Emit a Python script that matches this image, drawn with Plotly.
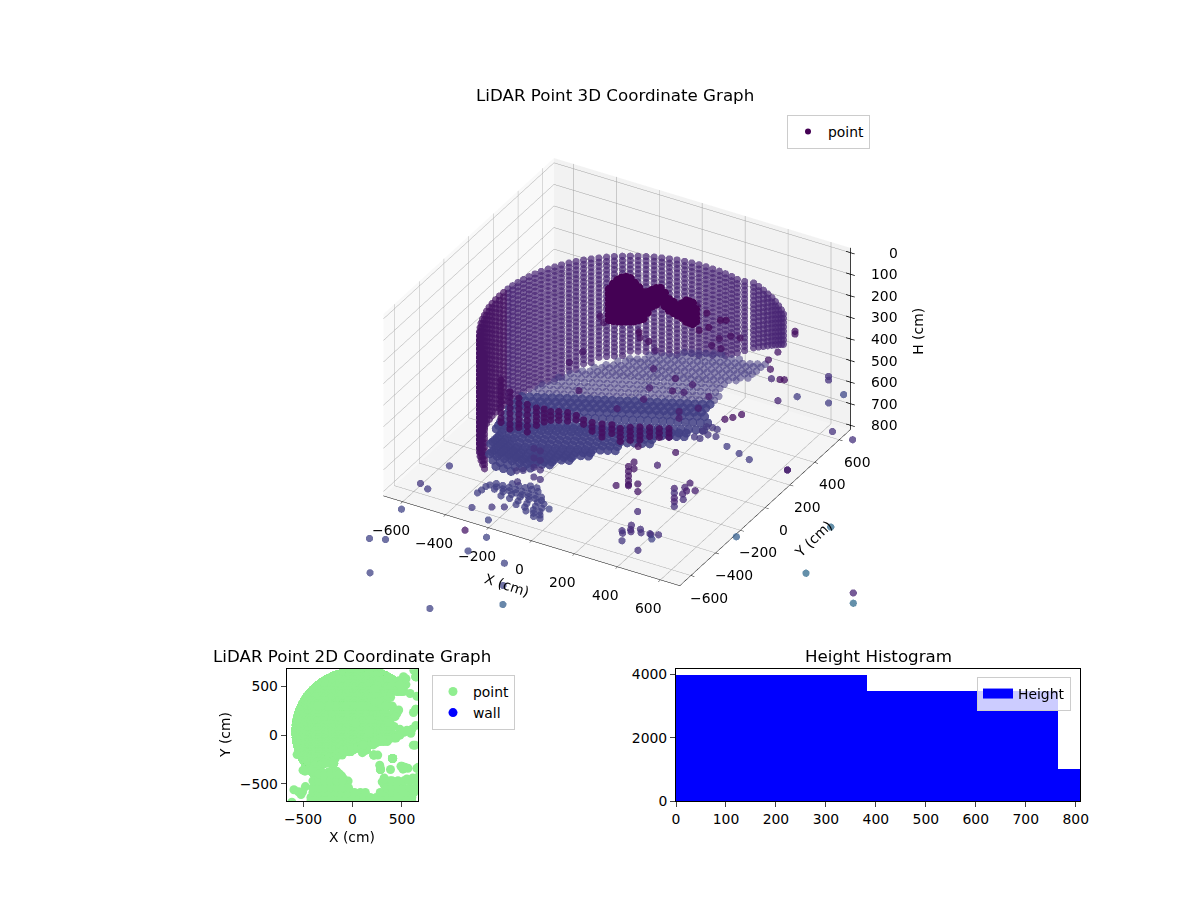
import plotly.graph_objects as go

FONT = 'DejaVu Sans'

# wall columns read from the 3D view / 2D footprint (cm)
wall_x = [492,468,443,416,389,360,331,300,269,232,198,167,135,104,72,40,8,-24,-55,-87,-118,-148,-178,-208,-237,-265,-292,-319,-344,-368,-391,-413,-434,-453,-472,-488,-503,-518,-530,-540,-549,-557,-563,-567,-569,-570,-569,-567,-563,-557,-549,-540,-530,-517,-503,-488,-472,-453,-434,-413,-391]
wall_y = [492,516,537,558,577,594,610,625,638,630,629,637,643,647,649,650,649,647,643,637,629,620,610,597,583,568,552,533,514,493,471,448,424,399,372,345,317,288,258,228,198,167,135,104,72,40,8,-24,-55,-87,-118,-148,-178,-208,-237,-265,-292,-319,-344,-368,-391]
wall_rows = [8,9,10,11,12,13,14,15,16,17,18,19,20,20,21,21,22,22,22,23,23,23,23,23,23,23,24,24,24,24,25,25,26,26,27,27,27,27,27,27,27,27,27,27,27,27,27,27,27,27,27,27,27,27,27,27,27,27,27,27,27]
wall_levels = [240,260,280,300,320,340,360,380,400,420,440,460,480,500,520,540,560,580,600,620,640,660,680,700,720,740,760]

# floor read on a 35 cm grid: row y, first column, heights along the row
floor_cols = [-560,-525,-490,-455,-420,-385,-350,-315,-280,-245,-210,-175,-140,-105,-70,-35,0,35,70,105,140,175,210,245,280,315,350,385,420,455,490]
floor_y = [600,565,530,495,460,425,390,355,320,285,250,215,180,145,110,75,40,5,-30,-47,-65,-82,-100,-117,-135,-152,-170,-187,-205,-222,-240,-275,-310]
floor_first = [15,11,9,8,7,6,5,4,3,3,2,2,2,1,1,1,1,1,1,1,1,2,2,2,2,2,2,3,3,3,3,4,5]
floor_h = [
    [635,625,616,607,598,589],
    [671,662,653,644,635,625,616,607,598,589,580,571,562],
    [689,680,671,662,653,644,635,625,616,607,598,589,580,571,562,553,544,534,525],
    [693,684,675,666,657,648,639,630,620,611,602,593,584,575,566,557,548,539,529,520],
    [702,693,684,675,666,657,648,639,630,620,611,602,593,584,575,566,557,548,539,529,520],
    [706,697,688,679,670,661,652,643,634,625,615,606,597,588,579,570,561,552,543,534,524,515],
    [715,706,697,688,679,670,661,652,643,634,625,615,606,597,588,579,570,561,552,543,534,524,515],
    [720,710,701,692,683,674,665,656,647,638,629,620,610,601,592,583,574,565,556,547,538,529,519],
    [729,720,710,701,692,683,674,665,656,647,638,629,620,610,601,592,583,574,565,556,547,538,529],
    [729,720,710,701,692,683,674,665,656,647,638,629,620,610,601,592,583,574,565,556,547,538,529],
    [738,729,720,710,701,692,683,674,665,656,647,638,629,620,610,601,592,583,574,565,556,547,538,529],
    [738,729,720,710,701,692,683,674,665,656,647,638,629,620,610,601,592,583,574,565,556,547,538,529,519],
    [738,729,720,710,701,692,683,674,665,656,647,638,629,620,610,601,592,583,574,565,556,547,538,529,519],
    [747,738,729,720,710,701,692,683,674,665,656,647,638,629,620,610,601,592,583,574,565,556,547,538,529,519],
    [747,738,729,720,710,701,692,683,674,665,656,647,638,629,620,610,601,592,583,574,565,556,547,538,529,519],
    [747,738,729,720,710,701,692,683,674,665,656,647,638,629,620,610,601,592,583,574,565,556,547,538,529,519],
    [747,738,729,720,710,701,692,683,674,665,656,647,638,629,620,610,601,592,583,574,565,556,547,538,529,519,510],
    [757,748,739,730,720,711,702,693,684,675,666,657,648,639,630,620,611,602,593,584,575,566,557,548,539,529,520,511],
    [772,763,754,745,735,726,717,708,699,690,681,672,663,654,645,635,626,617,608,599,590,581,572,563,554,544,535,526],
    [780,771,762,752,743,734,725,716,707,698,689,680,671,662,652,643,634,625,616,607,598,589,580,571,562,552],
    [787,778,769,760,750,741,732,723,714,705,696,687,678,669,660,650,641,632,623,614,605,596,587,578,569,559],
    [784,779,770,760,751,742,733,724,715,706,697,688,679,670,660,651,642,633,624,615,606],
    [790,789,780,770,761,752,743,734,725,716,707,698,689,680,670,661,652,643,634,625,616],
    [790,790,785,780,771,762,753,744,735,726,717,708,699,690,680,671,662],
    [790,790,790,790,781,772,763,754,745,736,727,718,709,700,690,681,672],
    [790,790,790,790,786,777,768,759,750,741,732,723,714,705],
    [790,790,790,790,790,782,773,764,755,746,737,728,719,710],
    [790,790,790,790,786,775,766,757,748,739,730],
    [790,790,790,790,790,778,769,760,751,742,733],
    [790,790,790,790,786,780,771,762,753],
    [790,790,790,790,790,783,774,765,756],
    [790,790,790,790,783,774],
    [790,790,792],
]

# darker short columns along the front edge
front_x = [-350,-320,-290,-265,-240,-213,-184,-156,-130,-97,-58,-18,14,51,94,125,162,199,232,266]
front_y = [-330,-310,-290,-265,-235,-219,-216,-200,-173,-161,-169,-169,-145,-130,-137,-110,-96,-81,-61,-41]
front_h = [
    [370,395,420,445,470,495,520,545,565],
    [425,450,475,500,525,550,575,597],
    [455,480,505,530,555,575,592],
    [490,515,540,565,590,618],
    [515,535,555,575,595],
    [520,540,560,580],
    [525,545,565],
    [525,545,565],
    [535,555,575],
    [545,565],
    [550,570],
    [550,570,590],
    [560,580,600,620],
    [560,580,600],
    [560,580,600,620],
    [560,580,600,620],
    [555,575,595,615],
    [555,575,595],
    [560,580,600],
    [560,580,600],
]

# solid dark patch on the back wall
blob_y = 300
blob_x = [-210,-190,-170,-150,-130,-110,-90,-70,-50,-30,-10,10,30,50,70,90,110,130,150,165,180,195]
blob_h = [
    [235,258,282,305,330,355,378],
    [205,227,250,272,295,318,340,362,376],
    [180,202,225,248,270,292,315,338,360,372],
    [165,188,210,232,255,278,300,322,345,367],
    [155,178,200,222,245,268,290,312,335,360],
    [155,178,200,222,245,268,290,312,335,355],
    [171,192,215,238,260,282,305,328,347],
    [185,208,230,252,275,298,320,336],
    [202,225,248,270,292,315,325],
    [195,218,240,262,290],
    [180,202,225,255],
    [165,188,210,240],
    [158,180,202,220],
    [175,198,218,235],
    [198,218,235,250],
    [205,225,242,255],
    [215,232,248,260],
    [200,222,245,265],
    [180,202,225,248,277],
    [180,202,225,248,278],
    [182,205,228,252,279],
    [206,228,248,263],
]

# floor-level cluster at the lower left
cluster_y = [-370,-395,-420,-445,-470,-495,-520,-545,-570]
cluster_x = [
    [-190,-160],
    [-260,-230,-200,-170,-140],
    [-320,-290,-260,-230,-200,-170,-140,-110],
    [-335,-305,-275,-245,-215,-185,-155,-125,-95],
    [-340,-300,-260,-220,-180,-140,-100,-70],
    [-345,-255,-215,-175,-135,-95,-65],
    [-350,-170,-130,-90,-60],
    [-110,-75,-45],
    [-60,-30],
]
cluster_h = [790,788,792,790,786,790,792,790,788]

# loose points inside the axes box
loose_x = [-332,-394,-350,-172,-48,-21,-3,6,-65,-25,99,86,139,179,206,117,117,255,268,304,312,357,401,-252,-234,-70,210,246,255,309,336,201,86,446,455,490,530,530,460,500,520,490,540,640,640,640,670,268,248,227,640,182,167,28,140,140,140,140,140,140,283,283,215,215,275,100,405,405,405,405,405,300,320,340,320,340,350,380,400,430,440,470,450,420,500,530,560,520,490,510,-592,-546,-476,-252,-209,-44,-220,-220,-220,-220,-190,-190,-190,-190,-300,-270,-244,195,192,216,239,188,214,228,262,467,408,338]
loose_y = [300,300,300,300,300,300,300,300,300,300,300,300,300,300,300,300,300,300,300,300,300,300,300,300,300,300,300,300,300,300,300,300,300,450,450,450,520,520,450,450,450,450,520,600,600,600,670,543,506,478,267,159,37,123,-150,-150,-150,-150,-150,-150,-353,-353,-205,-205,-310,-180,-240,-240,-240,-240,-240,-480,-510,-550,-440,-480,-495,-470,-500,-480,-490,-480,-500,-560,-320,-330,-340,-340,-320,-350,-561,-582,-529,-574,-548,-472,-290,-290,-290,-290,-290,-290,-290,-290,-290,-290,-380,353,392,398,396,300,300,341,345,259,280,302]
loose_h = [563,631,748,778,697,636,542,455,417,422,557,618,609,561,662,704,735,593,352,309,354,282,277,374,398,393,300,209,273,224,215,189,232,444,485,395,323,336,527,519,514,620,623,664,541,558,653,800,800,800,800,800,800,800,716,738,760,782,800,805,546,577,745,781,800,800,690,712,734,752,774,792,782,790,782,775,774,767,761,767,763,760,775,805,615,581,602,615,649,653,800,800,700,800,800,800,667,711,755,800,670,714,758,802,795,785,782,800,800,800,800,800,800,800,800,800,800,800]
loose_c = [0.06,0.06,0.06,0.08,0.08,0.08,0.08,0.08,0.04,0.04,0.06,0.06,0.08,0.08,0.08,0.08,0.08,0.08,0.04,0.04,0.04,0.04,0.04,0.04,0.04,0.02,0.02,0.02,0.02,0.02,0.02,0.04,0.04,0.06,0.06,0.06,0.04,0.04,0.12,0.04,0.04,0.1,0.18,0.18,0.14,0.14,0.22,0.04,0.04,0.04,0.08,0.06,0.1,0.04,0.06,0.06,0.06,0.06,0.06,0.06,0.06,0.06,0.06,0.06,0.12,0.06,0.1,0.14,0.1,0.1,0.14,0.14,0.14,0.16,0.12,0.12,0.12,0.14,0.14,0.14,0.14,0.14,0.2,0.14,0.1,0.08,0.08,0.08,0.1,0.12,0.16,0.18,0.18,0.16,0.16,0.2,0.14,0.14,0.14,0.14,0.14,0.14,0.14,0.14,0.16,0.16,0.16,0.16,0.16,0.16,0.16,0.16,0.16,0.16,0.16,0.18,0.18,0.18]

# points that fall outside the axes box
outer_x = [-660,-640,-600,-560,-520,-300,-260,-180,-480,-400,-500,-380,-560,615,650,650,680,680,640,660,620]
outer_y = [-850,-890,-830,-770,-610,-390,-470,-610,-370,-360,-360,-380,-200,-103,600,400,730,730,267,760,666]
outer_h = [1083,897,921,800,1332,1171,1220,1211,1179,1097,1094,1000,1091,923,1236,1345,1600,1648,800,912,837]
outer_c = [0.2,0.2,0.2,0.2,0.2,0.2,0.2,0.3,0.2,0.2,0.06,0.2,0.18,0.3,0.34,0.34,0.1,0.34,0.08,0.14,0.14]

# parts of the footprint only readable in the 2D panel
extra_x = [-420,-360,-300,-240,-180,-120,-60,0,60,120,180,240,300,360,420,480,540,600,-420,-360,-300,-240,-180,-120,-60,0,60,120,180,240,300,360,420,480,540,600,-400,-340,-280,-220,-160,-100,-40,20,80,130,280,340,400,460,520,580,620,-400,-340,-280,-220,-160,-100,-40,340,400,460,520,580,640,-400,-340,-280,-220,-160,-100,400,460,520,580,640,660,-340,-280,-220,-160,-130,550,610,665,-505,-613,215,255,404,283,384,582,616,633,650,665,515,540,470,480,420,448,430,380,420,480,550,600,640,590,520,480,440,360,300,240,110]
extra_y = [-680,-680,-680,-680,-680,-680,-680,-680,-680,-680,-680,-680,-680,-680,-680,-680,-680,-680,-640,-640,-640,-640,-640,-640,-640,-640,-640,-640,-640,-640,-640,-640,-640,-640,-640,-640,-590,-590,-590,-590,-590,-590,-590,-590,-590,-590,-590,-590,-590,-590,-590,-590,-590,-540,-540,-540,-540,-540,-540,-540,-540,-540,-540,-540,-540,-540,-470,-470,-470,-470,-470,-470,-470,-470,-470,-470,-470,-470,-400,-400,-400,-400,-400,-450,-440,-430,-582,-690,-205,-205,-240,-353,-353,428,233,-103,-342,-330,600,580,560,520,230,222,190,130,90,60,50,60,100,20,30,0,-30,-50,-60,-80,-100]

# histogram bins
hist_left = [0,382,765]
hist_width = [382,383,382]
hist_count = [3975,3470,1015]

x_ticks = [-600,-400,-200,0,200,400,600]
h_ticks = [0,100,200,300,400,500,600,700,800]

wx, wy, wh, wc = [], [], [], []
for cx, cy, n in zip(wall_x, wall_y, wall_rows):
    for h in wall_levels[:n]:
        wx.append(cx); wy.append(cy); wh.append(h)
        wc.append(0.05 if cy < 100 else 0.1)

fx, fy, fh = [], [], []
for y, first, row in zip(floor_y, floor_first, floor_h):
    for x, h in zip(floor_cols[first:], row):
        fx.append(x); fy.append(y); fh.append(h)

dx, dy, dh = [], [], []
for cx, cy, row in zip(front_x, front_y, front_h):
    for h in row:
        dx.append(cx); dy.append(cy); dh.append(h)

bx, by, bh = [], [], []
for cx, row in zip(blob_x, blob_h):
    for h in row:
        bx.append(cx); by.append(blob_y); bh.append(h)

cx_, cy_, ch_ = [], [], []
for y, h, row in zip(cluster_y, cluster_h, cluster_x):
    for x in row:
        cx_.append(x); cy_.append(y); ch_.append(h)

fig = go.Figure()
MS = 4.2


def cloud(x, y, h, c, alpha=0.65, scene='scene', name='point', size=MS):
    fig.add_trace(go.Scatter3d(x=x, y=y, z=h, mode='markers', name=name, scene=scene, showlegend=False,
                               marker=dict(size=size, color=c, colorscale='Viridis', cmin=0, cmax=1, opacity=alpha)))


back = [i for i, y in enumerate(fy) if y > 150]
near = [i for i, y in enumerate(fy) if y <= 150]

cloud(wx, wy, wh, wc, alpha=0.7)
cloud([fx[i] for i in back], [fy[i] for i in back], [fh[i] for i in back], [0.17] * len(back), alpha=0.55, size=4.4)
cloud([fx[i] for i in near], [fy[i] for i in near], [fh[i] for i in near], [0.19] * len(near), alpha=0.85, size=5.2)
cloud(bx, by, bh, [0.0] * len(bx), alpha=1, size=5)
cloud(dx, dy, dh, [0.04] * len(dx), alpha=0.85)
cloud(cx_, cy_, ch_, [0.19] * len(cx_), alpha=0.75)
cloud(loose_x, loose_y, loose_h, loose_c, alpha=0.75)
# scene2 has the same view with wider ranges, scene clips at its axis limits
cloud(outer_x, outer_y, outer_h, outer_c, alpha=0.75, scene='scene2')

# z axis drawn on the right hand edge like the reference
ax_x, ax_y, ax_z = [690, 690], [690, 690], [820, -22]
for h in h_ticks:
    ax_x += [None, 670, 710]
    ax_y += [None, 690, 690]
    ax_z += [None, h, h]
fig.add_trace(go.Scatter3d(x=ax_x, y=ax_y, z=ax_z, mode='lines', scene='scene2', showlegend=False,
                           line=dict(color='black', width=1.5)))

# legend entry for the cloud
fig.add_trace(go.Scatter(x=[None], y=[None], mode='markers', name='point', legend='legend', xaxis='x', yaxis='y',
                         marker=dict(size=6, color='#440154')))

# 2D panel
flat_x = wx + fx + dx + bx + cx_ + loose_x + outer_x + extra_x
flat_y = wy + fy + dy + by + cy_ + loose_y + outer_y + extra_y
fig.add_trace(go.Scatter(x=flat_x, y=flat_y, mode='markers', name='point', legend='legend2', xaxis='x', yaxis='y',
                         marker=dict(size=9, color='lightgreen')))
fig.add_trace(go.Scatter(x=[None], y=[None], mode='markers', name='wall', legend='legend2', xaxis='x', yaxis='y',
                         marker=dict(size=9, color='blue')))

# histogram
fig.add_trace(go.Bar(x=hist_left, y=hist_count, width=hist_width, offset=0, name='Height', legend='legend3', showlegend=False,
                     xaxis='x2', yaxis='y2', marker=dict(color='blue', line=dict(width=0))))
fig.add_trace(go.Scatter(x=[None], y=[None], mode='lines', name='Height', legend='legend3', xaxis='x2', yaxis='y2',
                         line=dict(color='blue', width=10)))


# the page has an 8 px body margin, so picture pixels sit 8 px off paper pixels
def px(v):
    return (v - 8) / 1200


def py(v):
    return 1 - (v - 8) / 900


pane = dict(showbackground=True, gridcolor='#a0a0a0', gridwidth=1, showspikes=False, zeroline=False, showticklabels=False)
cam = dict(projection=dict(type='orthographic'), eye=dict(x=1.119, y=-1.984, z=1.186), center=dict(x=-0.017, y=-0.01, z=-0.225), up=dict(x=0, y=0, z=1))
k = 3.2
box = 0.76
hidden = dict(visible=False, showspikes=False)
label = dict(showarrow=False, font=dict(family=FONT, size=13.9, color='black'))
scene_labels = [dict(label, x=690, y=690, z=h, text=str(h), xanchor='right', xshift=50) for h in h_ticks]
scene_labels += [dict(label, x=v, y=-690, z=820, text=str(v).replace('-', '\u2212'), xshift=-12, yshift=-28) for v in x_ticks]
scene_labels += [dict(label, x=690, y=v, z=820, text=str(v).replace('-', '\u2212'), xshift=18, yshift=-22) for v in x_ticks]
scene_labels += [
    dict(label, x=690, y=690, z=365, text='H (cm)', textangle=-90, xshift=68),
    dict(label, x=0, y=-690, z=820, text='X (cm)', textangle=18, xshift=-25, yshift=-44),
    dict(label, x=690, y=0, z=820, text='Y (cm)', textangle=-44, xshift=48, yshift=-31),
]
tick2d = dict(mirror=True, showline=True, linecolor='black', ticks='outside', ticklen=5, showgrid=False, zeroline=False)


def text_at(text, x, y, size=16.7, angle=0):
    return dict(text=text, x=px(x), y=py(y), xref='paper', yref='paper', xanchor='center', yanchor='middle', showarrow=False, textangle=angle, font=dict(size=size))


fig.update_layout(
    width=1200, height=900, margin=dict(l=0, r=0, t=0, b=0, autoexpand=False), paper_bgcolor='white', plot_bgcolor='white',
    font=dict(family=FONT, size=13.9, color='black'),
    scene=dict(
        domain=dict(x=[0, 1], y=[0, 1]),
        xaxis=dict(pane, title=dict(text=''), range=[-690, 690], tickvals=x_ticks, backgroundcolor='#f9f9f9',
                   showline=True, linecolor='black', ticks='outside', ticklen=4, tickcolor='black'),
        yaxis=dict(pane, title=dict(text=''), range=[-690, 690], tickvals=x_ticks, backgroundcolor='#f2f2f2',
                   showline=True, linecolor='black', ticks='outside', ticklen=4, tickcolor='black'),
        zaxis=dict(pane, title=dict(text=''), range=[820, -22], tickvals=h_ticks, backgroundcolor='#f5f5f5', showline=False, ticks=''),
        aspectmode='manual', aspectratio=dict(x=box, y=box, z=0.625 * box), camera=cam, annotations=scene_labels,
    ),
    scene2=dict(
        domain=dict(x=[0, 1], y=[0, 1]), bgcolor='rgba(0,0,0,0)',
        xaxis=dict(hidden, range=[-690 * k, 690 * k]), yaxis=dict(hidden, range=[-690 * k, 690 * k]), zaxis=dict(hidden, range=[399 + 421 * k, 399 - 421 * k]),
        aspectmode='manual', aspectratio=dict(x=k * box, y=k * box, z=0.625 * k * box), camera=cam,
    ),
    xaxis=dict(tick2d, domain=[px(286.7), px(418.3)], anchor='y', range=[-665, 665], tickvals=[-500, 0, 500]),
    yaxis=dict(tick2d, domain=[py(801), py(669.3)], anchor='x', range=[-677, 677], tickvals=[-500, 0, 500]),
    xaxis2=dict(tick2d, domain=[px(676), px(1080)], anchor='y2', range=[0, 808.6], tickvals=[0, 100, 200, 300, 400, 500, 600, 700, 800]),
    yaxis2=dict(tick2d, domain=[py(801), py(669.3)], anchor='x2', range=[0, 4167], tickvals=[0, 2000, 4000]),
    bargap=0,
    legend=dict(x=px(787), y=py(115), xanchor='left', yanchor='top', bgcolor='white', bordercolor='#cccccc', borderwidth=1),
    legend2=dict(x=px(432), y=py(675), xanchor='left', yanchor='top', bgcolor='white', bordercolor='#cccccc', borderwidth=1),
    legend3=dict(x=px(977), y=py(677), xanchor='left', yanchor='top', bgcolor='rgba(255,255,255,0.8)', bordercolor='#cccccc', borderwidth=1),
    annotations=[
        text_at('LiDAR Point 3D Coordinate Graph', 615, 95),
        text_at('LiDAR Point 2D Coordinate Graph', 352, 656),
        text_at('Height Histogram', 878, 656),
        text_at('X (cm)', 352, 837, size=13.9),
        text_at('Y (cm)', 225, 735, size=13.9, angle=-90),
    ],
)

fig.write_html('out.html')
